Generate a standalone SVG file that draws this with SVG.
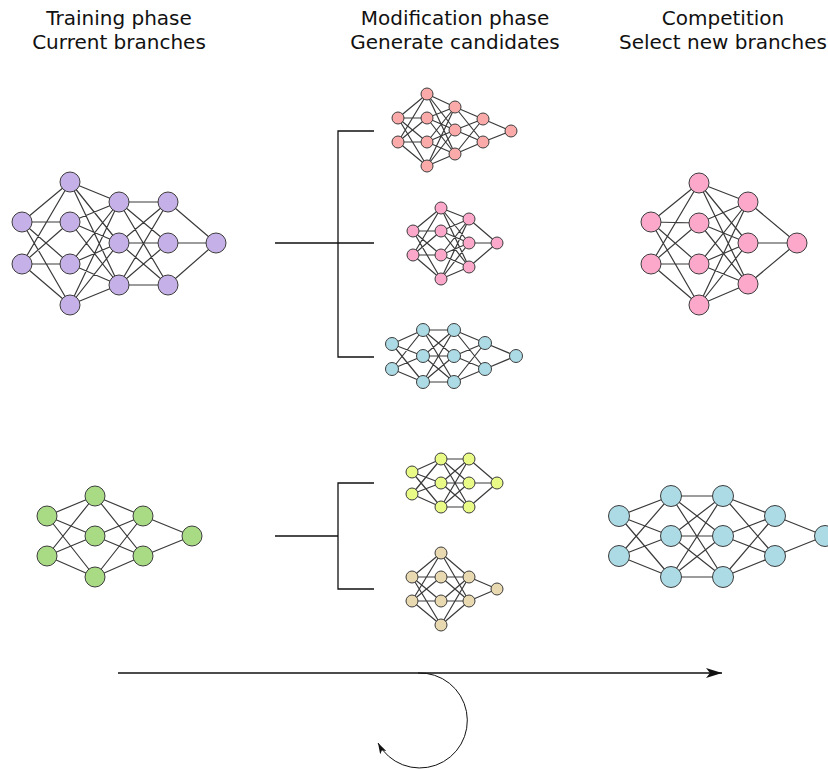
<svg xmlns="http://www.w3.org/2000/svg" width="828" height="769" viewBox="0 0 828 769">
  <style>
    .title { font-family: "DejaVu Sans", Verdana, sans-serif; font-size: 20px; fill: #111; text-anchor: middle; }
    .edges { fill: none; stroke: #3a3a3a; stroke-width: 1.2; }
    .node { stroke: #3c3c3c; stroke-width: 1; }
    .purple { fill: #c6b0e8; }
    .salmon { fill: #fbaaaa; }
    .pink { fill: #fca8ca; }
    .cyan { fill: #acdbe6; }
    .lime { fill: #e9fb86; }
    .tan { fill: #e9d9b0; }
    .green { fill: #a9db84; }
    .link { fill: none; stroke: #111; stroke-width: 1.3; }
    .thin { fill: none; stroke: #111; stroke-width: 1; }
  </style>
  <defs>
    <marker id="dart" viewBox="0 0 16 10" refX="16" refY="5" markerWidth="16" markerHeight="10" markerUnits="userSpaceOnUse" orient="auto">
      <path d="M0 0 L16 5 L0 10 L4 5 Z" fill="#111"/>
    </marker>
    <marker id="dartSmall" viewBox="0 0 16 10" refX="16" refY="5" markerWidth="11" markerHeight="7" markerUnits="userSpaceOnUse" orient="auto">
      <path d="M0 0 L16 5 L0 10 L4 5 Z" fill="#111"/>
    </marker>
  </defs>
  <rect width="828" height="769" fill="#ffffff"/>

  <!-- column headings -->
  <g id="headings">
    <text class="title" x="119" y="25">Training phase</text>
    <text class="title" x="119" y="49">Current branches</text>
    <text class="title" x="455" y="25">Modification phase</text>
    <text class="title" x="455" y="49">Generate candidates</text>
    <text class="title" x="723" y="25">Competition</text>
    <text class="title" x="723" y="49">Select new branches</text>
  </g>

  <!-- connectors: branching brackets and timeline arrows -->
  <g id="connectors">
    <path class="link" d="M275 243 H374 M374 131 H338 V357 H374"/>
    <path class="link" d="M275 536 H338 M374 483 H338 V589 H374"/>
    <path class="link" d="M118 673 H722" marker-end="url(#dart)"/>
    <path class="thin" d="M418 673 A47.5 47.5 0 1 1 378 743" marker-end="url(#dartSmall)"/>
  </g>

  <!-- current branch A -->
  <g id="net-purple">
    <path class="edges" d="M22 222L70 182M22 222L70 222M22 222L70 264M22 222L70 305M22 264L70 182M22 264L70 222M22 264L70 264M22 264L70 305
      M70 182L119 202M70 182L119 243M70 182L119 285M70 222L119 202M70 222L119 243M70 222L119 285M70 264L119 202M70 264L119 243M70 264L119 285M70 305L119 202M70 305L119 243M70 305L119 285
      M119 202L168 202M119 202L168 243M119 202L168 285M119 243L168 202M119 243L168 243M119 243L168 285M119 285L168 202M119 285L168 243M119 285L168 285
      M168 202L216 243M168 243L216 243M168 285L216 243"/>
    <g class="node purple">
      <circle cx="22" cy="222" r="10"/><circle cx="22" cy="264" r="10"/>
      <circle cx="70" cy="182" r="10"/><circle cx="70" cy="222" r="10"/><circle cx="70" cy="264" r="10"/><circle cx="70" cy="305" r="10"/>
      <circle cx="119" cy="202" r="10"/><circle cx="119" cy="243" r="10"/><circle cx="119" cy="285" r="10"/>
      <circle cx="168" cy="202" r="10"/><circle cx="168" cy="243" r="10"/><circle cx="168" cy="285" r="10"/>
      <circle cx="216" cy="243" r="10"/>
    </g>
  </g>

  <!-- current branch B -->
  <g id="net-green">
    <path class="edges" d="M47 516L95 496M47 516L95 536M47 516L95 577M47 556L95 496M47 556L95 536M47 556L95 577
      M95 496L143 516M95 496L143 556M95 536L143 516M95 536L143 556M95 577L143 516M95 577L143 556
      M143 516L192 536M143 556L192 536"/>
    <g class="node green">
      <circle cx="47" cy="516" r="10"/><circle cx="47" cy="556" r="10"/>
      <circle cx="95" cy="496" r="10"/><circle cx="95" cy="536" r="10"/><circle cx="95" cy="577" r="10"/>
      <circle cx="143" cy="516" r="10"/><circle cx="143" cy="556" r="10"/>
      <circle cx="192" cy="536" r="10"/>
    </g>
  </g>

  <!-- candidate 1 -->
  <g id="cand-salmon">
    <path class="edges" d="M398 118L427 94M398 118L427 118M398 118L427 142M398 118L427 166M398 142L427 94M398 142L427 118M398 142L427 142M398 142L427 166
      M427 94L455 107M427 94L455 130M427 94L455 154M427 118L455 107M427 118L455 130M427 118L455 154M427 142L455 107M427 142L455 130M427 142L455 154M427 166L455 107M427 166L455 130M427 166L455 154
      M455 107L483 119M455 107L483 142M455 130L483 119M455 130L483 142M455 154L483 119M455 154L483 142
      M483 119L511 131M483 142L511 131"/>
    <g class="node salmon">
      <circle cx="398" cy="118" r="6"/><circle cx="398" cy="142" r="6"/>
      <circle cx="427" cy="94" r="6"/><circle cx="427" cy="118" r="6"/><circle cx="427" cy="142" r="6"/><circle cx="427" cy="166" r="6"/>
      <circle cx="455" cy="107" r="6"/><circle cx="455" cy="130" r="6"/><circle cx="455" cy="154" r="6"/>
      <circle cx="483" cy="119" r="6"/><circle cx="483" cy="142" r="6"/>
      <circle cx="511" cy="131" r="6"/>
    </g>
  </g>

  <!-- candidate 2 -->
  <g id="cand-pink">
    <path class="edges" d="M413 231L441 208M413 231L441 231M413 231L441 255M413 231L441 279M413 255L441 208M413 255L441 231M413 255L441 255M413 255L441 279
      M441 208L469 219M441 208L469 243M441 208L469 267M441 231L469 219M441 231L469 243M441 231L469 267M441 255L469 219M441 255L469 243M441 255L469 267M441 279L469 219M441 279L469 243M441 279L469 267
      M469 219L497 243M469 243L497 243M469 267L497 243"/>
    <g class="node pink">
      <circle cx="413" cy="231" r="6"/><circle cx="413" cy="255" r="6"/>
      <circle cx="441" cy="208" r="6"/><circle cx="441" cy="231" r="6"/><circle cx="441" cy="255" r="6"/><circle cx="441" cy="279" r="6"/>
      <circle cx="469" cy="219" r="6"/><circle cx="469" cy="243" r="6"/><circle cx="469" cy="267" r="6"/>
      <circle cx="497" cy="243" r="6"/>
    </g>
  </g>

  <!-- candidate 3 -->
  <g id="cand-cyan">
    <path class="edges" d="M392 344L423 330M392 344L423 356M392 344L423 382M392 369L423 330M392 369L423 356M392 369L423 382
      M423 330L454 330M423 330L454 356M423 330L454 382M423 356L454 330M423 356L454 356M423 356L454 382M423 382L454 330M423 382L454 356M423 382L454 382
      M454 330L485 343M454 330L485 369M454 356L485 343M454 356L485 369M454 382L485 343M454 382L485 369
      M485 343L516 356M485 369L516 356"/>
    <g class="node cyan">
      <circle cx="392" cy="344" r="6.5"/><circle cx="392" cy="369" r="6.5"/>
      <circle cx="423" cy="330" r="6.5"/><circle cx="423" cy="356" r="6.5"/><circle cx="423" cy="382" r="6.5"/>
      <circle cx="454" cy="330" r="6.5"/><circle cx="454" cy="356" r="6.5"/><circle cx="454" cy="382" r="6.5"/>
      <circle cx="485" cy="343" r="6.5"/><circle cx="485" cy="369" r="6.5"/>
      <circle cx="516" cy="356" r="6.5"/>
    </g>
  </g>

  <!-- candidate 4 -->
  <g id="cand-lime">
    <path class="edges" d="M412 472L441 459M412 472L441 483M412 472L441 507M412 494L441 459M412 494L441 483M412 494L441 507
      M441 459L469 459M441 459L469 483M441 459L469 507M441 483L469 459M441 483L469 483M441 483L469 507M441 507L469 459M441 507L469 483M441 507L469 507
      M469 459L497 483M469 483L497 483M469 507L497 483"/>
    <g class="node lime">
      <circle cx="412" cy="472" r="6"/><circle cx="412" cy="494" r="6"/>
      <circle cx="441" cy="459" r="6"/><circle cx="441" cy="483" r="6"/><circle cx="441" cy="507" r="6"/>
      <circle cx="469" cy="459" r="6"/><circle cx="469" cy="483" r="6"/><circle cx="469" cy="507" r="6"/>
      <circle cx="497" cy="483" r="6"/>
    </g>
  </g>

  <!-- candidate 5 -->
  <g id="cand-tan">
    <path class="edges" d="M412 577L441 553M412 577L441 577M412 577L441 601M412 577L441 625M412 601L441 553M412 601L441 577M412 601L441 601M412 601L441 625
      M441 553L469 577M441 553L469 601M441 577L469 577M441 577L469 601M441 601L469 577M441 601L469 601M441 625L469 577M441 625L469 601
      M469 577L497 589M469 601L497 589"/>
    <g class="node tan">
      <circle cx="412" cy="577" r="6"/><circle cx="412" cy="601" r="6"/>
      <circle cx="441" cy="553" r="6"/><circle cx="441" cy="577" r="6"/><circle cx="441" cy="601" r="6"/><circle cx="441" cy="625" r="6"/>
      <circle cx="469" cy="577" r="6"/><circle cx="469" cy="601" r="6"/>
      <circle cx="497" cy="589" r="6"/>
    </g>
  </g>

  <!-- selected branch A -->
  <g id="winner-pink">
    <path class="edges" d="M651 222L699 183M651 222L699 223M651 222L699 264M651 222L699 305M651 264L699 183M651 264L699 223M651 264L699 264M651 264L699 305
      M699 183L748 202M699 183L748 243M699 183L748 284M699 223L748 202M699 223L748 243M699 223L748 284M699 264L748 202M699 264L748 243M699 264L748 284M699 305L748 202M699 305L748 243M699 305L748 284
      M748 202L797 243M748 243L797 243M748 284L797 243"/>
    <g class="node pink">
      <circle cx="651" cy="222" r="10"/><circle cx="651" cy="264" r="10"/>
      <circle cx="699" cy="183" r="10"/><circle cx="699" cy="223" r="10"/><circle cx="699" cy="264" r="10"/><circle cx="699" cy="305" r="10"/>
      <circle cx="748" cy="202" r="10"/><circle cx="748" cy="243" r="10"/><circle cx="748" cy="284" r="10"/>
      <circle cx="797" cy="243" r="10"/>
    </g>
  </g>

  <!-- selected branch B -->
  <g id="winner-cyan">
    <path class="edges" d="M619 516L671 496M619 516L671 536M619 516L671 577M619 556L671 496M619 556L671 536M619 556L671 577
      M671 496L723 496M671 496L723 536M671 496L723 577M671 536L723 496M671 536L723 536M671 536L723 577M671 577L723 496M671 577L723 536M671 577L723 577
      M723 496L775 516M723 496L775 556M723 536L775 516M723 536L775 556M723 577L775 516M723 577L775 556
      M775 516L825 536M775 556L825 536"/>
    <g class="node cyan">
      <circle cx="619" cy="516" r="10.5"/><circle cx="619" cy="556" r="10.5"/>
      <circle cx="671" cy="496" r="10.5"/><circle cx="671" cy="536" r="10.5"/><circle cx="671" cy="577" r="10.5"/>
      <circle cx="723" cy="496" r="10.5"/><circle cx="723" cy="536" r="10.5"/><circle cx="723" cy="577" r="10.5"/>
      <circle cx="775" cy="516" r="10.5"/><circle cx="775" cy="556" r="10.5"/>
      <circle cx="825" cy="536" r="10.5"/>
    </g>
  </g>
</svg>
